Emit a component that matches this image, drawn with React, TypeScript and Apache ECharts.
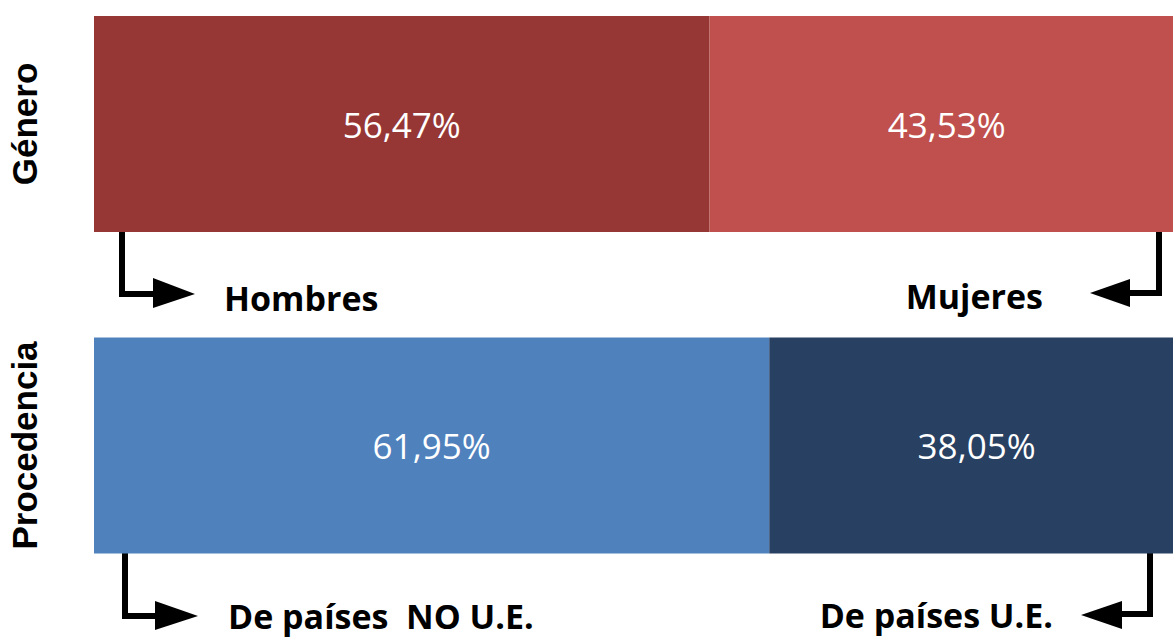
import React, { useEffect, useRef } from "react";
import * as echarts from "echarts";

const categories = ["Género", "Procedencia"];
const firstValues = [56.47, 61.95];
const secondValues = [43.53, 38.05];
const firstColors = ["#963735", "#4F81BD"];
const secondColors = ["#C0504D", "#284062"];
const groupLabels = [
  ["Hombres", "Mujeres"],
  ["De países  NO U.E.", "De países U.E."],
];

const fmt = (v: number) => v.toFixed(2).replace(".", ",") + "%";

export default function App() {
  const ref = useRef<HTMLDivElement>(null);
  useEffect(() => {
    if (!ref.current) return;
    const chart = echarts.init(ref.current, undefined, { renderer: "svg" });
    const lineStyle = { stroke: "#000", lineWidth: 6, fill: null as any };
    const headStyle = { fill: "#000" };
    const tStyle = (text: string, x: number, y: number, align: string) => ({
      type: "text",
      x,
      y,
      style: {
        text,
        fill: "#000",
        font: "bold 34px 'Open Sans'",
        align,
        verticalAlign: "middle",
      },
    });
    const barLabel = {
      show: true,
      position: "inside",
      color: "#fff",
      fontFamily: "'Open Sans'",
      fontSize: 35,
      formatter: (p: any) => fmt(p.value),
    };
    chart.setOption({
      animation: false,
      grid: {
        left: 94,
        top: 124,
        width: 1090,
        height: 321.5,
        containLabel: false,
        outerBoundsMode: "none",
      },
      xAxis: { type: "value", min: 0, max: 100, show: false },
      yAxis: {
        type: "category",
        data: categories,
        inverse: true,
        boundaryGap: false,
        axisLine: { show: false },
        axisTick: { show: false },
        splitLine: { show: false },
        axisLabel: {
          rotate: 90,
          margin: 52,
          color: "#000",
          fontFamily: "'Liberation Sans', Arial",
          fontWeight: "bold",
          fontSize: 35,
        },
      },
      series: [
        {
          type: "bar",
          stack: "total",
          barWidth: 216,
          data: firstValues.map((v, i) => ({ value: v, itemStyle: { color: firstColors[i] } })),
          label: barLabel,
        },
        {
          type: "bar",
          stack: "total",
          barWidth: 216,
          data: secondValues.map((v, i) => ({ value: v, itemStyle: { color: secondColors[i] } })),
          label: barLabel,
        },
      ],
      graphic: [
        { type: "polyline", shape: { points: [[122, 230], [122, 294], [156, 294]] }, style: lineStyle },
        { type: "polygon", shape: { points: [[153, 278], [195, 294], [153, 308]] }, style: headStyle },
        { type: "polyline", shape: { points: [[1159, 228], [1159, 293], [1127, 293]] }, style: lineStyle },
        { type: "polygon", shape: { points: [[1130, 279], [1090, 293], [1130, 307]] }, style: headStyle },
        { type: "polyline", shape: { points: [[125, 552], [125, 616], [158, 616]] }, style: lineStyle },
        { type: "polygon", shape: { points: [[155, 601], [198, 616], [155, 630]] }, style: headStyle },
        { type: "polyline", shape: { points: [[1150, 550], [1150, 614], [1119, 614]] }, style: lineStyle },
        { type: "polygon", shape: { points: [[1122, 601], [1081, 615], [1122, 629]] }, style: headStyle },
        tStyle(groupLabels[0][0], 224, 298, "left"),
        tStyle(groupLabels[0][1], 1043, 296, "right"),
        tStyle(groupLabels[1][0], 228, 616, "left"),
        tStyle(groupLabels[1][1], 1053, 615, "right"),
      ],
    });
    return () => chart.dispose();
  }, []);
  return <div ref={ref} style={{ width: 1173, height: 637, position: "absolute", left: 0, top: 0 }} />;
}
